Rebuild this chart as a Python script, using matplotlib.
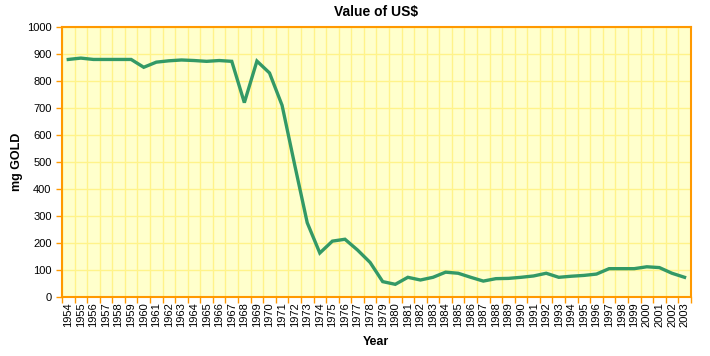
import numpy as np
import matplotlib.pyplot as plt

years = list(range(1954, 2004))
mg_gold = [880, 885, 880, 880, 880, 880, 851, 870, 875, 878,
           876, 873, 876, 873, 720, 874, 830, 710, 490, 275,
           163, 207, 214, 174, 128, 57, 47, 73, 63, 73,
           92, 88, 73, 59, 68, 69, 73, 78, 88, 73,
           77, 80, 85, 105, 105, 105, 112, 109, 88, 73]

plt.rcParams['font.family'] = ['Liberation Sans', 'DejaVu Sans']

orange = '#ff9900'
fig = plt.figure(figsize=(7.1, 3.56), dpi=100)
ax = fig.add_axes([0.0873, 0.1657, 0.8857, 0.7583])
ax.set_facecolor('#ffffcc')

x = np.arange(len(years))
ax.plot(x, mg_gold, color='#339966', linewidth=2.4, solid_joinstyle='miter', zorder=3)

ax.set_xlim(-0.5, len(years) - 0.5)
ax.set_ylim(0, 1000)
ax.set_yticks(np.arange(0, 1001, 100))
ax.set_xticks(x)
ax.set_xticklabels([str(y) for y in years], rotation=90, fontsize=8)
ax.set_xticks(np.arange(-0.5, len(years), 1), minor=True)
ax.tick_params(axis='x', which='major', length=0, pad=4)
ax.tick_params(axis='x', which='minor', length=4, color=orange, width=1)
ax.tick_params(axis='y', which='major', length=4, color=orange, width=1, labelsize=8)

ax.grid(True, axis='y', color='#fff38a', linewidth=1, zorder=0)
ax.grid(True, axis='x', which='minor', color='#fff38a', linewidth=1, zorder=0)
ax.set_axisbelow(True)

for s in ax.spines.values():
    s.set_color(orange)
    s.set_linewidth(1.5)

ax.set_title('Value of US$', fontsize=10, fontweight='bold', pad=8)
ax.set_ylabel('mg GOLD', fontsize=9, fontweight='bold', labelpad=3)
ax.set_xlabel('Year', fontsize=9, fontweight='bold', labelpad=6)

fig.savefig('out.png', dpi=100)
